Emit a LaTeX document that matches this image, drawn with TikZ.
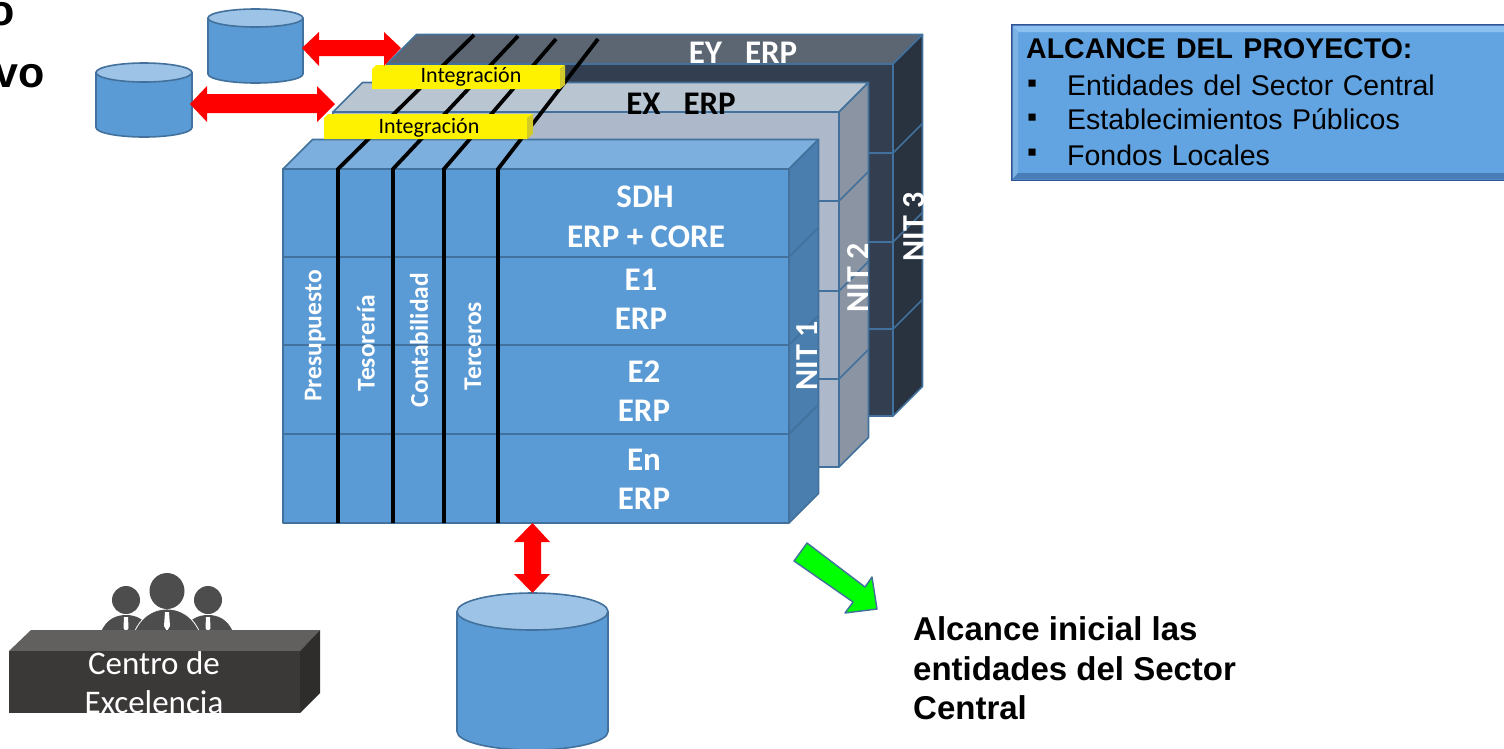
\documentclass[tikz,border=0pt]{standalone}
\usepackage{fontspec}
\setmainfont{Carlito}
\newfontfamily\arial{Liberation Sans}
\newcommand{\boxbodyfont}{\arial\fontsize{28.5}{34}\selectfont\spaceskip=9.5pt\relax}
\newcommand{\boxheadfont}{\arial\bfseries\fontsize{28.5}{34}\selectfont\spaceskip=10.5pt\relax}
\definecolor{edgeb}{HTML}{41719C}
\definecolor{fA}{HTML}{5B9BD5}\definecolor{tA}{HTML}{7CAEDE}\definecolor{sA}{HTML}{4A7EAE}
\definecolor{fB}{HTML}{ADB9CA}\definecolor{tB}{HTML}{BAC5D2}\definecolor{sB}{HTML}{8A94A2}
\definecolor{fC}{HTML}{333F50}\definecolor{tC}{HTML}{5C6673}\definecolor{sC}{HTML}{29323F}
\definecolor{cyltop}{HTML}{9DC3E6}
\definecolor{boxfill}{HTML}{62A4E1}
\definecolor{people}{HTML}{4D4D4D}
\tikzset{
  x=1pt,y=-1pt,
  faceline/.style={draw=edgeb,line width=1.6pt,line join=round},
  redarrow/.style={fill=red,draw=none},
  blackbar/.style={draw=black,line width=3.8pt},
  blocktext/.style={font=\bfseries\fontsize{33}{38}\selectfont,text=white,inner sep=0pt},
  moduletext/.style={font=\bfseries\fontsize{25.5}{30}\selectfont,text=white,rotate=90,inner sep=0pt},
  nittext/.style={font=\bfseries\fontsize{32}{36}\selectfont,text=white,rotate=90,inner sep=0pt},
  yelbar/.style={fill=yellow,draw=none},
  yeltext/.style={font=\fontsize{22}{26}\selectfont,text=black,inner sep=0pt},
  boxtext/.style={font=\boxbodyfont,text=black,inner sep=0pt,anchor=west},
  headtext/.style={font=\arial\bfseries\fontsize{33}{38}\selectfont,text=black,inner sep=0pt,anchor=west},
}
% #1 left, #2 right, #3 top, #4 bottom, #5 front, #6 top colour, #7 side colour, #8 row list
\newcommand{\stackblock}[8]{
  \path[faceline,fill=#5] (#1,#3) rectangle (#2,#4);
  \path[faceline,fill=#6] (#1,#3) -- (#1+29.5,#3-29.5) -- (#2+29.5,#3-29.5) -- (#2,#3) -- cycle;
  \path[faceline,fill=#7] (#2,#3) -- (#2+29.5,#3-29.5) -- (#2+29.5,#4-29.5) -- (#2,#4) -- cycle;
  \foreach \r in {#8}{
    \draw[faceline] (#1,\r) -- (#2,\r) -- (#2+29.5,\r-29.5);
  }
}
% #1 left, #2 right, #3 top, #4 ellipse radius, #5 bottom
\newcommand{\cylinder}[5]{
  \path[faceline,fill=fA] (#1,#3+#4) -- (#1,#5-#4) arc[start angle=180,end angle=360,x radius={(#2-#1)/2*1pt},y radius=#4 pt] -- (#2,#3+#4) -- cycle;
  \path[faceline,fill=cyltop] ({(#1+#2)/2},#3+#4) ellipse[x radius={(#2-#1)/2*1pt},y radius=#4 pt];
}
\begin{document}
\begin{tikzpicture}
\useasboundingbox (0,0) rectangle (1504,748);

% cropped heading remains
\node[font=\arial\bfseries\fontsize{43}{50}\selectfont,anchor=base east,inner sep=0pt] (oword) at (15,25) {o};
\node[font=\arial\bfseries\fontsize{43}{50}\selectfont,anchor=base east,inner sep=0pt] (voword) at (45,87) {vo};

% stacks
\stackblock{387}{893}{64}{416}{fC}{tC}{sC}{153,242,329}
\stackblock{333}{839}{112}{467}{fB}{tB}{sB}{201,291,379}
\stackblock{283}{789}{169}{523}{fA}{tA}{sA}{257,345,434}

% module bars
\coordinate (a1) at (338,523); \coordinate (a2) at (338,169); \coordinate (a3) at (474,35);
\coordinate (b1) at (393,523); \coordinate (b2) at (393,169); \coordinate (b3) at (518,36);
\coordinate (c1) at (444,523); \coordinate (c2) at (444,169); \coordinate (c3) at (556,39);
\coordinate (d1) at (498,523); \coordinate (d2) at (498,169); \coordinate (d3) at (598,39);
\draw[blackbar] (a1) -- (a2) -- (a3);
\draw[blackbar] (b1) -- (b2) -- (b3);
\draw[blackbar] (c1) -- (c2) -- (c3);
\draw[blackbar] (d1) -- (d2) -- (d3);

% yellow integration bars
\fill[yelbar] (372,89) -- (372,69) -- (376,65) -- (565,65) -- (560,69) -- (560,89) -- cycle;
\fill[yellow!80!black] (560,69) -- (565,65) -- (565,85) -- (560,89) -- cycle;
\node[yeltext] (int1) at (471,77) {Integración};
\fill[yelbar] (324,139) -- (324,118) -- (328,114) -- (533,114) -- (527,118) -- (527,139) -- cycle;
\fill[yellow!80!black] (527,118) -- (533,114) -- (533,134) -- (527,139) -- cycle;
\node[yeltext] (int2) at (429,128) {Integración};

% block texts
\node[blocktext] (sdh) at (645,197) {SDH};
\node[blocktext] (core) at (646,237) {ERP + CORE};
\node[blocktext] (e1) at (641,280) {E1};
\node[blocktext] (e1b) at (641,319) {ERP};
\node[blocktext] (e2) at (644,372) {E2};
\node[blocktext] (e2b) at (644,411) {ERP};
\node[blocktext] (en) at (644,460) {En};
\node[blocktext] (enb) at (644,499) {ERP};
\node[blocktext] (ey) at (743,53) {EY\hspace{23pt}ERP};
\node[blocktext,text=black] (ex) at (681,104) {EX\hspace{23pt}ERP};
\node[moduletext] (pre) at (315,336) {Presupuesto};
\node[moduletext] (tes) at (366,343) {Tesorería};
\node[moduletext] (con) at (419,340) {Contabilidad};
\node[moduletext] (ter) at (473,346) {Terceros};
\node[nittext] (nit1) at (807,356) {NIT 1};
\begin{scope}
  \clip (840,200) rectangle (868,330);
  \node[nittext] (nit2) at (858,278) {NIT 2};
\end{scope}
\begin{scope}
  \clip (895,150) rectangle (923,280);
  \node[nittext] (nit3) at (914,227) {NIT 3};
\end{scope}

% cylinders
\cylinder{208}{303}{9}{9}{83}
\cylinder{96}{192}{63}{9.5}{137}
\begin{scope}
  \clip (400,580) rectangle (660,748);
  \cylinder{457}{608}{593}{18.5}{750}
\end{scope}

% red arrows
\fill[redarrow] (302,48) -- (319,32) -- (319,40) -- (384,40) -- (384,32) -- (401,48) -- (384,66) -- (384,56) -- (319,56) -- (319,66) -- cycle;
\fill[redarrow] (190,104) -- (207,86) -- (207,94) -- (317,94) -- (317,86) -- (335,104) -- (317,122) -- (317,113) -- (207,113) -- (207,122) -- cycle;
\fill[redarrow] (532.5,523) -- (550,542) -- (541,542) -- (541,574) -- (550,574) -- (532.5,593) -- (514,574) -- (524,574) -- (524,542) -- (514,542) -- cycle;

% green arrow
\path[fill=green,draw=edgeb,line width=1.4pt,line join=round] (807,543) -- (865,587) -- (872,577) -- (877,609) -- (845,613) -- (853,602) -- (794,561) -- cycle;

% people
\fill[people] (126,600) ellipse[x radius=14pt,y radius=14pt];
\fill[people] (208,600) ellipse[x radius=14pt,y radius=14pt];
\fill[people] (101,632) .. controls (106,620) and (115,615) .. (126,615) .. controls (137,615) and (146,620) .. (151,632) -- cycle;
\fill[people] (183,632) .. controls (188,620) and (197,615) .. (208,615) .. controls (219,615) and (228,620) .. (233,632) -- cycle;
\path[fill=people,draw=white,line width=.8pt] (134,633) .. controls (140,618) and (152,609) .. (167,609) .. controls (182,609) and (194,618) .. (200,633) -- cycle;
\fill[people] (167,591) ellipse[x radius=17.5pt,y radius=18pt];
\fill[white] (124,617) -- (128,617) -- (128.5,628) -- (126,632) -- (123.5,628) -- cycle;
\fill[white] (206,617) -- (210,617) -- (210.5,628) -- (208,632) -- (205.5,628) -- cycle;
\fill[white] (165,612) -- (169,612) -- (170,626) -- (167,631) -- (164,626) -- cycle;

% centre block
\fill[fill={rgb,255:red,98;green,95;blue,95}] (9,651) -- (31,630) -- (320,630) -- (300,651) -- cycle;
\fill[fill={rgb,255:red,47;green,44;blue,44}] (300,651) -- (320,630) -- (320,693) -- (300,713) -- cycle;
\fill[fill={rgb,255:red,59;green,56;blue,56}] (9,651) rectangle (300,713);
\begin{scope}
  \clip (9,651) rectangle (300,713);
  \node[font=\fontsize{33}{38}\selectfont,text=white,inner sep=0pt] (cen1) at (154,663) {Centro de};
  \node[font=\fontsize{33}{38}\selectfont,text=white,inner sep=0pt] (cen2) at (154,702) {Excelencia};
\end{scope}

% scope box
\fill[fill={rgb,255:red,47;green,85;blue,151}] (1011,24) rectangle (1504,181);
\fill[boxfill] (1012.5,25.5) rectangle (1504,179.5);
\fill[fill={rgb,255:red,140;green,192;blue,240}] (1012.5,25.5) -- (1504,25.5) -- (1504,32) -- (1018,32) -- cycle;
\fill[fill={rgb,255:red,125;green,178;blue,228}] (1012.5,25.5) -- (1018,32) -- (1018,173) -- (1012.5,179.5) -- cycle;
\fill[fill={rgb,255:red,73;green,125;blue,184}] (1012.5,179.5) -- (1018,173) -- (1504,173) -- (1504,179.5) -- cycle;
\node[font=\boxheadfont,text=black,inner sep=0pt,anchor=west] (boxhead) at (1026,49) {ALCANCE DEL PROYECTO:};
\node[boxtext] (bul1) at (1027,86) {▪};
\node[boxtext] (bul2) at (1027,120) {▪};
\node[boxtext] (bul3) at (1027,155) {▪};
\node[boxtext] (box1) at (1067,85) {Entidades del Sector Central};
\node[boxtext] (box2) at (1067,119) {Establecimientos Públicos};
\node[boxtext] (box3) at (1067,155) {Fondos Locales};

% lower-right note
\node[headtext] (note1) at (913,629) {Alcance inicial las};
\node[headtext] (note2) at (913,669) {entidades del Sector};
\node[headtext] (note3) at (913,708) {Central};
\end{tikzpicture}
\end{document}
